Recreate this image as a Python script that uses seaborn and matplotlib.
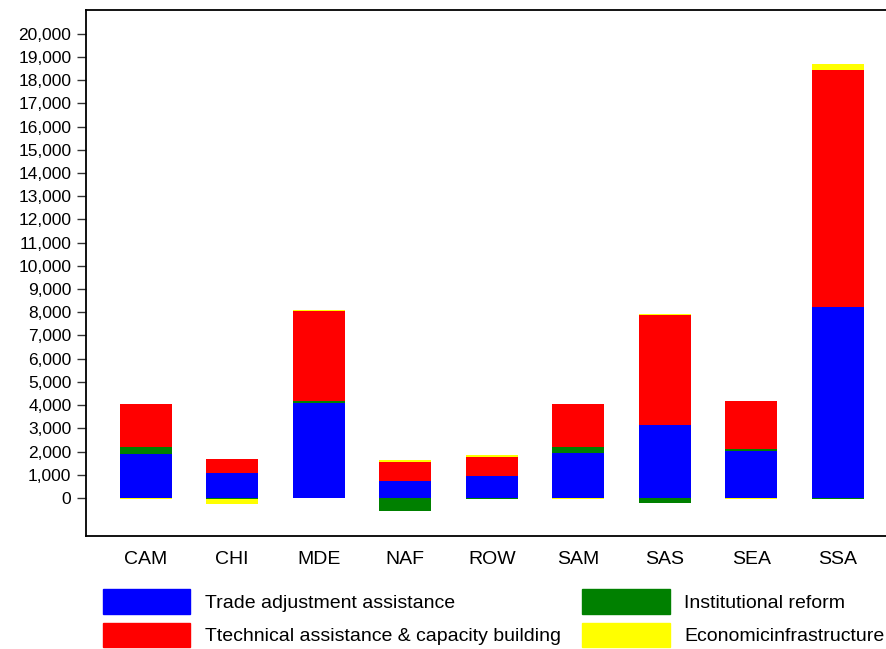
import numpy as np
import pandas as pd
import matplotlib
matplotlib.use("Agg")
import matplotlib.pyplot as plt
from matplotlib.ticker import FuncFormatter
import seaborn as sns

regions = ["CAM", "CHI", "MDE", "NAF", "ROW", "SAM", "SAS", "SEA", "SSA"]
trade_adjustment = [1910, 1090, 4095, 720, 960, 1940, 3160, 2025, 8245]
institutional_reform = [275, -50, 85, -560, -30, 258, -210, 75, -40]
technical_assistance = [1880, 590, 3865, 845, 807, 1853, 4714, 2080, 10200]
economic_infrastructure = [-30, -195, 60, 73, 73, -40, 56, -40, 258]

series = [
    ("Trade adjustment assistance", trade_adjustment, "#0000ff"),
    ("Institutional reform", institutional_reform, "#008000"),
    ("Ttechnical assistance & capacity building", technical_assistance, "#ff0000"),
    ("Economicinfrastructure", economic_infrastructure, "#ffff00"),
]

sns.set_theme(style="ticks")
plt.rcParams["font.family"] = ["Liberation Sans", "DejaVu Sans"]
plt.rcParams["text.color"] = "black"
plt.rcParams["xtick.labelcolor"] = "black"
plt.rcParams["ytick.labelcolor"] = "black"

fig = plt.figure(figsize=(8.87, 6.49), dpi=100)
ax = fig.add_axes([0.097, 0.174, 0.903, 0.811])

# stack positives upward and negatives downward
pos_base = np.zeros(len(regions))
neg_base = np.zeros(len(regions))
handles = {}
for name, vals, color in series:
    vals = np.array(vals, dtype=float)
    bottom = np.where(vals >= 0, pos_base, neg_base)
    df = pd.DataFrame({"Region": regions, "Value": vals})
    sns.barplot(data=df, x="Region", y="Value", order=regions, color=color,
                saturation=1, width=0.6, errorbar=None, bottom=bottom,
                linewidth=0, ax=ax)
    pos_base = pos_base + np.where(vals >= 0, vals, 0)
    neg_base = neg_base + np.where(vals < 0, vals, 0)
    handles[name] = plt.Rectangle((0, 0), 1, 1, color=color)

ax.set_xlim(-0.69, 8.57)
ax.set_ylim(-1640, 21030)
ax.set_yticks(np.arange(0, 20001, 1000))
ax.yaxis.set_major_formatter(FuncFormatter(lambda v, p: f"{int(v):,}"))
ax.set_xlabel("")
ax.set_ylabel("")

for side in ["left", "top", "bottom"]:
    ax.spines[side].set_color("black")
    ax.spines[side].set_linewidth(1.3)
ax.spines["right"].set_visible(False)

ax.tick_params(axis="y", length=6.5, width=1, color="#333333", labelsize=12.5,
               pad=4, labelcolor="black")
ax.tick_params(axis="x", length=0, labelsize=14, pad=11, labelcolor="black")

order = ["Trade adjustment assistance", "Ttechnical assistance & capacity building",
         "Institutional reform", "Economicinfrastructure"]
fig.legend([handles[n] for n in order], order, ncol=2, frameon=False,
           loc="upper left", bbox_to_anchor=(0.116, 0.092), fontsize=14,
           handlelength=4.5, handleheight=1.55, handletextpad=0.75,
           columnspacing=1.1, labelspacing=0.46, borderpad=0, borderaxespad=0)

fig.savefig("out.png", dpi=100)
